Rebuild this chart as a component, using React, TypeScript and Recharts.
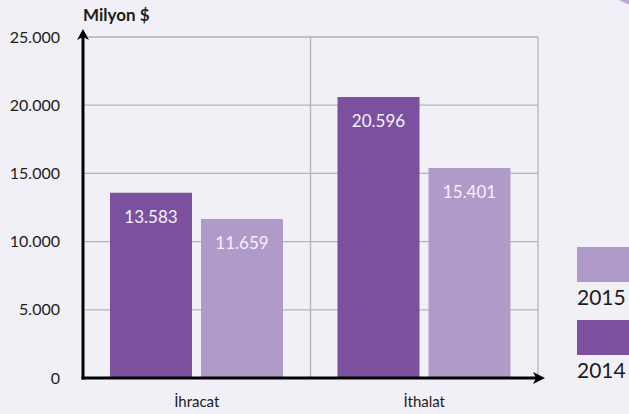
import { Bar, BarChart, CartesianGrid, LabelList, XAxis, YAxis } from "recharts";

const categories = ["İhracat", "İthalat"];
const values2014 = [13583, 20596];
const values2015 = [11659, 15401];
const yTicks = [0, 5000, 10000, 15000, 20000, 25000];
const legendItems = [
  { label: "2015", color: "#b09aca" },
  { label: "2014", color: "#7b519f" },
];

const dark = "#7b519f";
const light = "#b09aca";
const bg = "#f2f0f7";
const textColor = "#1c1c1c";
const font = "Lato, 'Open Sans', sans-serif";

const dotted = (v: number) => String(v).replace(/\B(?=(\d{3})+(?!\d))/g, ".");

const data = categories.map((c, i) => ({ name: c, y2014: values2014[i], y2015: values2015[i] }));

// y axis line + arrow + unit title, drawn from the axis box
const YAxisDecor = (props: any) => {
  const { x, y, width, height } = props.viewBox;
  const ax = x + width;
  return (
    <g>
      <line x1={ax} y1={y + height + 1.5} x2={ax} y2={y - 2} stroke="#000" strokeWidth={3} />
      <path d={`M${ax} ${y - 8} L${ax - 6} ${y + 3} L${ax} ${y} L${ax + 6} ${y + 3} Z`} fill="#000" />
      <text x={ax} y={y - 16} fill={textColor} fontSize={17} fontWeight={700} fontFamily={font}>
        Milyon $
      </text>
    </g>
  );
};

const XAxisDecor = (props: any) => {
  const { x, y, width } = props.viewBox;
  const end = x + width + 7;
  return (
    <g>
      <line x1={x - 1.5} y1={y} x2={end - 8} y2={y} stroke="#000" strokeWidth={3} />
      <path d={`M${end} ${y} L${end - 12} ${y - 6} L${end - 9} ${y} L${end - 12} ${y + 6} Z`} fill="#000" />
    </g>
  );
};

const ValueLabel = (props: any) => {
  const { x, y, width, value } = props;
  return (
    <text x={x + width / 2} y={y + 30} textAnchor="middle" fill="#f6f1fa" fontSize={17} fontFamily={font}>
      {dotted(value)}
    </text>
  );
};

export default function App() {
  return (
    <div
      style={{
        position: "fixed",
        left: 0,
        top: 0,
        width: 629,
        height: 414,
        background: bg,
        overflow: "hidden",
        fontFamily: font,
      }}
    >
      <div
        style={{
          position: "absolute",
          left: 574,
          top: -160,
          width: 170,
          height: 170,
          borderRadius: "50%",
          background: "#b9a5d3",
        }}
      />
      <BarChart
        width={629}
        height={414}
        data={data}
        margin={{ top: 37, right: 91, left: 0, bottom: 0 }}
        barCategoryGap={27}
        barGap={9}
      >
        <CartesianGrid
          stroke="#b3b3b3"
          strokeWidth={1.3}
          verticalCoordinatesGenerator={({ offset }: any) => [
            offset.left + offset.width / 2,
            offset.left + offset.width,
          ]}
        />
        <XAxis
          dataKey="name"
          height={36}
          axisLine={false}
          tickLine={false}
          tickSize={0}
          tickMargin={18}
          tick={{ fill: textColor, fontSize: 15, fontFamily: font }}
          label={{ content: XAxisDecor }}
        />
        <YAxis
          width={83}
          domain={[0, 25000]}
          ticks={yTicks}
          axisLine={false}
          tickLine={false}
          tickSize={0}
          tickMargin={23}
          tickFormatter={dotted}
          tick={{ fill: textColor, fontSize: 16, fontFamily: font }}
          label={{ content: YAxisDecor }}
        />
        <Bar dataKey="y2014" fill={dark} isAnimationActive={false}>
          <LabelList dataKey="y2014" content={ValueLabel} />
        </Bar>
        <Bar dataKey="y2015" fill={light} isAnimationActive={false}>
          <LabelList dataKey="y2015" content={ValueLabel} />
        </Bar>
      </BarChart>
      {legendItems.map((it, i) => (
        <div key={it.label} style={{ position: "absolute", left: 577, top: 247 + i * 73 }}>
          <div style={{ width: 60, height: 35, background: it.color }} />
          <div style={{ fontSize: 21, lineHeight: "21px", color: textColor, marginTop: 4 }}>{it.label}</div>
        </div>
      ))}
    </div>
  );
}
